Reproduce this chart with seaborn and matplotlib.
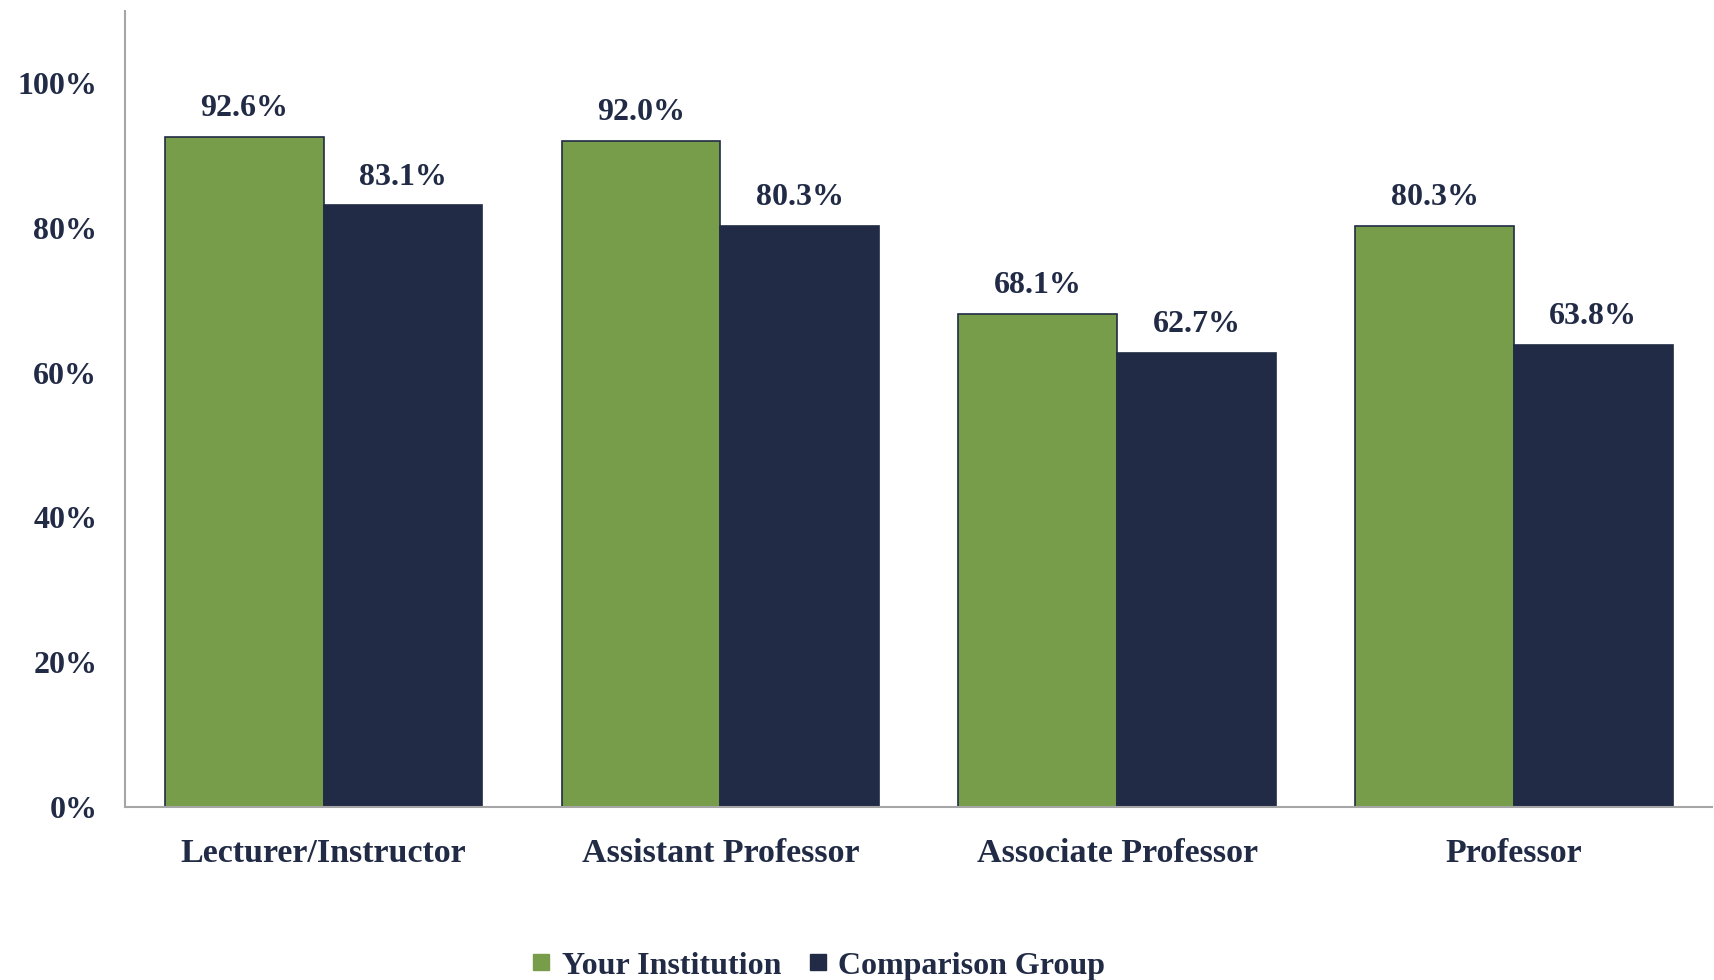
import pandas as pd
import matplotlib.pyplot as plt
import seaborn as sns

ranks = ['Lecturer/Instructor', 'Assistant Professor', 'Associate Professor', 'Professor']
your_inst = [92.6, 92.0, 68.1, 80.3]
comparison = [83.1, 80.3, 62.7, 63.8]
groups = ['Your Institution', 'Comparison Group']
yticks = [0, 20, 40, 60, 80, 100]

navy = '#212B45'
green = '#789D4A'

df = pd.DataFrame({
    'rank': ranks * 2,
    'value': your_inst + comparison,
    'group': [groups[0]] * 4 + [groups[1]] * 4,
})

sns.set_style('white')
plt.rcParams['font.family'] = ['Liberation Serif', 'DejaVu Serif']
plt.rcParams['font.weight'] = 'bold'

fig = plt.figure(figsize=(17.14, 9.8), dpi=100)
ax = fig.add_axes([0.073, 0.1765, 0.926, 0.8125])

sns.barplot(data=df, x='rank', y='value', hue='group', order=ranks, hue_order=groups,
            palette=[green, navy], width=0.8, edgecolor=navy, linewidth=1.2,
            saturation=1, ax=ax, legend=False)

for cont in ax.containers:
    ax.bar_label(cont, fmt='%.1f%%', padding=10, fontsize=23, color=navy, fontweight='bold')

ax.set_ylim(0, 110)
ax.set_xlim(-0.5, 3.5)
ax.set_yticks(yticks)
ax.set_yticklabels([f'{t}%' for t in yticks])
ax.set_xlabel('')
ax.set_ylabel('')
ax.tick_params(axis='both', length=0, labelcolor=navy)
ax.tick_params(axis='x', pad=22, labelsize=24.5)
ax.tick_params(axis='y', pad=20, labelsize=23)
for lab in ax.get_xticklabels() + ax.get_yticklabels():
    lab.set_fontweight('bold')

for s in ['top', 'right']:
    ax.spines[s].set_visible(False)
for s in ['left', 'bottom']:
    ax.spines[s].set_color('#A6A6A6')
    ax.spines[s].set_linewidth(1.5)

handles = [plt.Line2D([], [], marker='s', linestyle='', markersize=11, color=c) for c in [green, navy]]
fig.legend(handles, groups, loc='lower center', bbox_to_anchor=(0.477, -0.03), ncol=2,
           frameon=False, handlelength=0.7, handletextpad=0.3, columnspacing=0.8,
           labelcolor=navy, prop={'weight': 'bold', 'size': 23})

fig.savefig('out.png', dpi=100)
